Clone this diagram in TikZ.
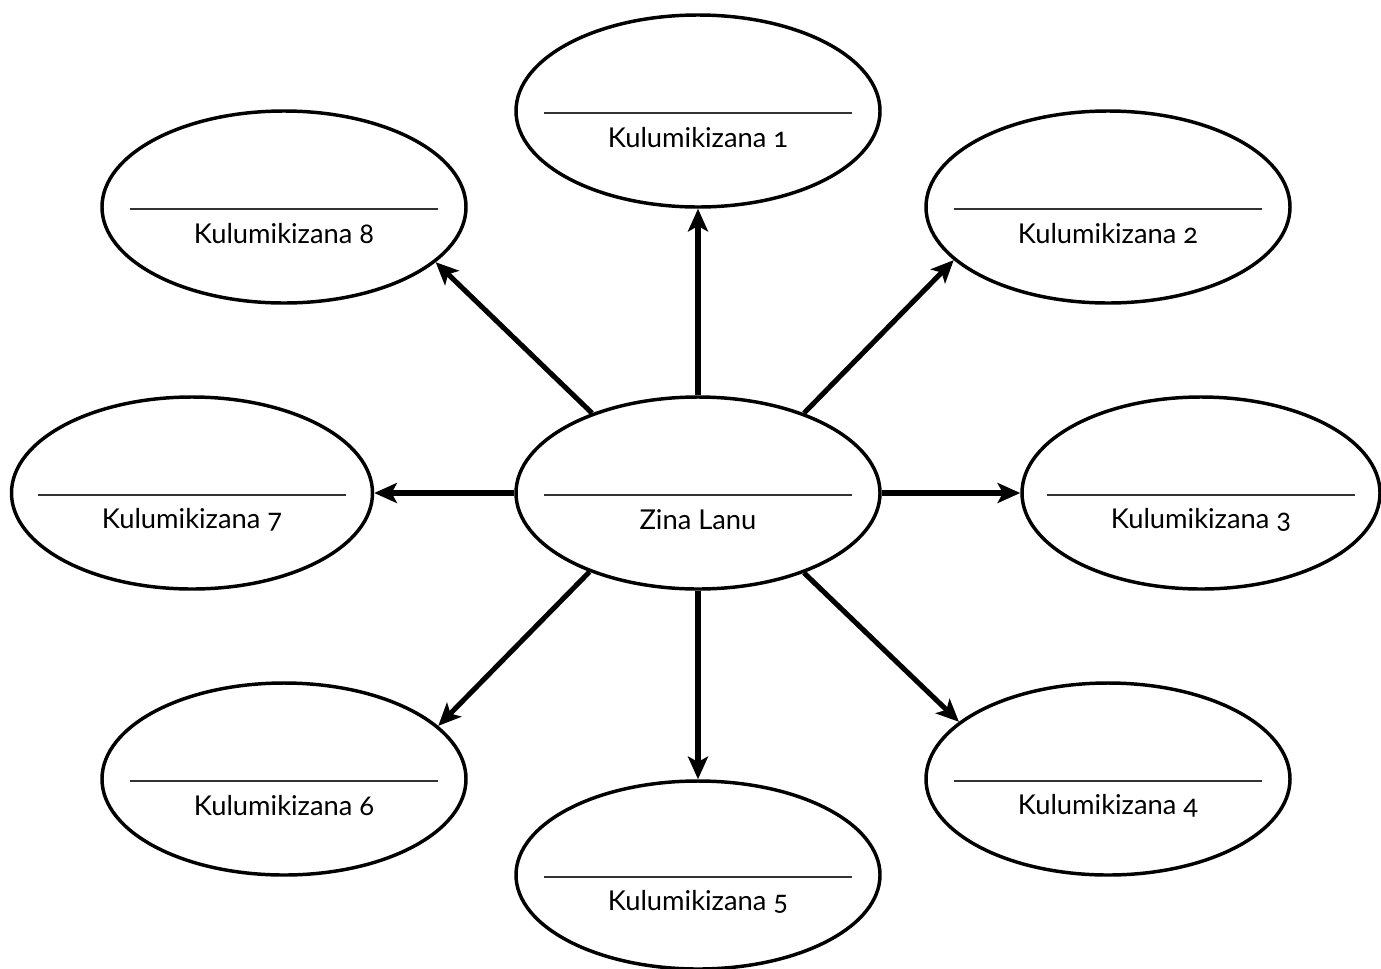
\documentclass[tikz,border=0pt]{standalone}
\usepackage{fontspec}
\setmainfont[Numbers=OldStyle]{Lato}
\usetikzlibrary{shapes.geometric,arrows.meta,calc}
\begin{document}
\begin{tikzpicture}[x=0.75pt,y=-0.75pt,
  bubble/.style={ellipse,draw=black,line width=2.6pt,minimum width=273pt,minimum height=144pt,inner sep=0pt,fill=white},
  rule/.style={draw=black!80,line width=1.1pt},
  lbl/.style={font=\fontsize{20.5}{24}\selectfont,text=black},
  arr/.style={line width=3.8pt,-{Stealth[length=17pt,width=15pt,inset=4pt]}}]
\useasboundingbox (0,0) rectangle (1381,968);
\clip (0,0) rectangle (1381,968);
\node[bubble] (c) at (698,493) {};
\node[bubble] (n1) at (698,111) {};
\node[bubble] (n2) at (1108,207) {};
\node[bubble,minimum width=268.5pt] (n3) at (1201,493) {};
\node[bubble] (n4) at (1108,779) {};
\node[bubble,minimum height=141pt] (n5) at (698,875) {};
\node[bubble] (n6) at (284,779) {};
\node[bubble,minimum width=270.75pt] (n7) at (192,493) {};
\node[bubble] (n8) at (284,207) {};
\foreach \n/\t in {c/Zina Lanu,n1/Kulumikizana 1,n2/Kulumikizana 2,n3/Kulumikizana 3,n4/Kulumikizana 4,n5/Kulumikizana 5,n6/Kulumikizana 6,n7/Kulumikizana 7,n8/Kulumikizana 8}{
  \draw[rule] ($(\n.center)+(-154,2)$) -- ($(\n.center)+(154,2)$);
  \node[lbl] (\n-t) at ($(\n.center)+(0,27)$) {\t};
}
\draw[arr] (c.90) -- (n1.270);
\draw[arr] (c.37.2) -- (n2.199.4);
\draw[arr] (c.0) -- (n3.180);
\draw[arr] (c.323) -- (n4.159.4);
\draw[arr] (c.270) -- (n5.90);
\draw[arr] (c.216.9) -- (n6.19.4);
\draw[arr] (c.180) -- (n7.0);
\draw[arr] (c.143.3) -- (n8.340.6);
\end{tikzpicture}
\end{document}
